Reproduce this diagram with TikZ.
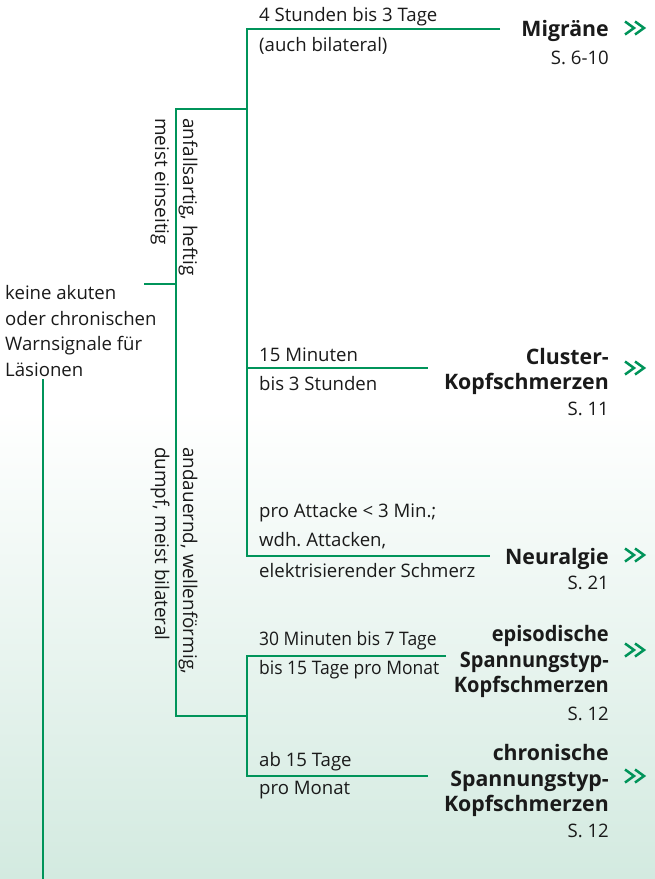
\documentclass[tikz,border=0pt]{standalone}
\usepackage{fontspec}
\usepackage{graphicx}
\setmainfont{Open Sans}
\frenchspacing
\definecolor{lgreen}{RGB}{0,148,90}
\definecolor{mint}{RGB}{211,234,224}
\definecolor{txt}{RGB}{26,26,26}
\newcommand\pgref[1]{{\mdseries\fontsize{18.6}{26}\selectfont #1}}
\newcommand\cond[1]{\scalebox{0.94}[1]{#1}}
\begin{document}
\begin{tikzpicture}[x=1pt,y=-1pt,
  conn/.style={draw=lgreen,line width=2.8pt,line join=miter},
  lab/.style={anchor=west,inner sep=0pt,text=txt,font=\fontsize{18.6}{20}\selectfont},
  ttl/.style={anchor=east,inner sep=0pt,text=txt,align=right,font=\fontsize{21.3}{25.6}\selectfont\bfseries},
  rot/.style={rotate=-90,anchor=west,inner sep=0pt,text=txt,align=left,font=\fontsize{18.9}{28}\selectfont},
  dchev/.pic={\draw[lgreen,line width=2.5pt,line join=miter] (-11,-6.5) -- (-2,0) -- (-11,6.5) (-1,-6.5) -- (8,0) -- (-1,6.5);}
]
\useasboundingbox (0,0) rectangle (655,879);
\fill[white] (0,0) rectangle (655,410);
\shade[top color=white,bottom color=mint] (0,409) rectangle (655,879);

% coordinates
\coordinate (mE) at (500,29);
\coordinate (uT) at (247,29);
\coordinate (uB) at (247,556);
\coordinate (nE) at (490,556);
\coordinate (aR) at (247,109);
\coordinate (aT) at (176,109);
\coordinate (aB) at (176,716);
\coordinate (aL) at (247,716);
\coordinate (rS) at (144,284);
\coordinate (rJ) at (176,284);
\coordinate (cS) at (247,368);
\coordinate (cE) at (428,368);
\coordinate (eE) at (446,656);
\coordinate (eS) at (247,656);
\coordinate (kS) at (247,776);
\coordinate (kE) at (428,776);
\coordinate (lT) at (43,379);
\coordinate (lB) at (43,879);

% connectors
\draw[conn] (mE) -- (uT) -- (uB) -- (nE);
\draw[conn] (aR) -- (aT) -- (aB) -- (aL);
\draw[conn] (eE) -- (eS) -- (kS) -- (kE);
\draw[conn] (rS) -- (rJ);
\draw[conn] (cS) -- (cE);
\draw[conn] (lT) -- (lB);

% root text
\node[anchor=west,inner sep=0pt,text=txt,align=left,font=\fontsize{18.6}{25.4}\selectfont] (root) at (5,331)
  {keine akuten\\oder chronischen\\Warnsignale für\\Läsionen};

% rotated texts
\node[rot] (anf) at (174,118) {anfallsartig, heftig\\meist einseitig};
\node[rot] (and) at (174,447) {andauernd, wellenförmig,\\dumpf, meist bilateral};

% branch labels
\node[lab] (m1) at (259,17) {4 Stunden bis 3 Tage};
\node[lab] (m2) at (259,46) {(auch bilateral)};
\node[lab] (c1) at (259,355) {15 Minuten};
\node[lab] (c2) at (259,384) {bis 3 Stunden};
\node[lab] (n1) at (259,513) {pro Attacke < 3 Min.;};
\node[lab] (n2) at (259,541) {wdh. Attacken,};
\node[lab] (n3) at (259,571) {elektrisierender Schmerz};
\node[lab] (e1) at (259,641) {\cond{30 Minuten bis 7 Tage}};
\node[lab] (e2) at (259,670) {\cond{bis 15 Tage pro Monat}};
\node[lab] (k1) at (259,762) {ab 15 Tage};
\node[lab] (k2) at (259,790) {pro Monat};

% titles
\node[ttl,font=\fontsize{21.3}{28}\selectfont\bfseries] (mig) at (609,43) {Migräne\\\pgref{S. 6-10}};
\node[ttl] (clu) at (609,382) {Cluster-\\Kopfschmerzen\\\pgref{S. 11}};
\node[ttl] (neu) at (609,569) {Neuralgie\\\pgref{S. 21}};
\node[ttl] (eps) at (609,673) {\cond{episodische}\\\cond{Spannungstyp-}\\\cond{Kopfschmerzen}\\[2pt]\pgref{S. 12}};
\node[ttl] (chr) at (609,791) {chronische\\Spannungstyp-\\Kopfschmerzen\\\pgref{S. 12}};

% chevrons
\pic at (636,28) {dchev};
\pic at (636,368) {dchev};
\pic at (636,555) {dchev};
\pic at (636,650) {dchev};
\pic at (636,776) {dchev};
\end{tikzpicture}
\end{document}
